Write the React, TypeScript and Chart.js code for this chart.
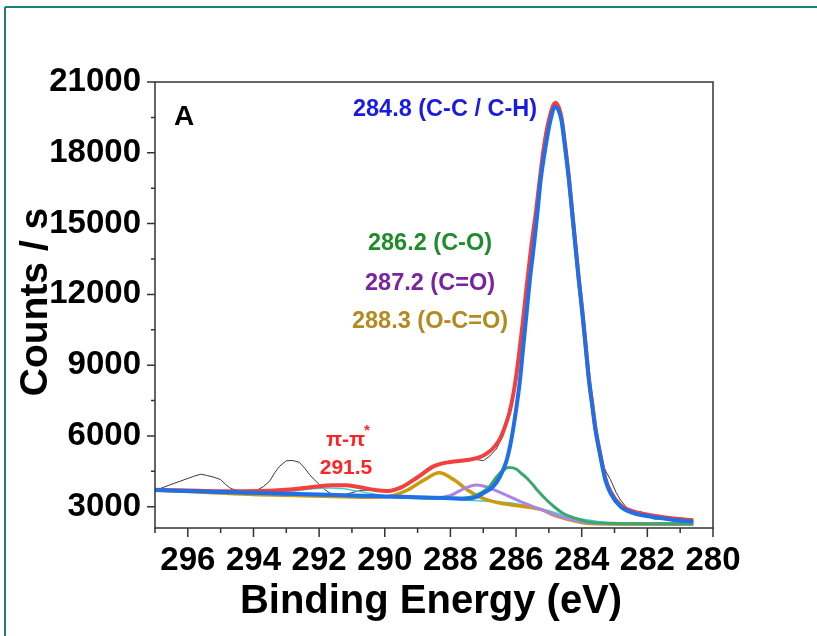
import React, { useEffect, useRef } from 'react';
import { Chart, registerables } from 'chart.js';
Chart.register(...registerables);

// ---- axes ----
const xTicks = [296, 294, 292, 290, 288, 286, 284, 282, 280];
const xMinorTicks = [297, 295, 293, 291, 289, 287, 285, 283, 281];
const yTicks = [3000, 6000, 9000, 12000, 15000, 18000, 21000];
const yMinorTicks = [4500, 7500, 10500, 13500, 16500, 19500];

// ---- raw spectrum (black) ----
const rawE = [296.9, 296.6, 296.3, 296.0, 295.8, 295.6, 295.4, 295.2, 295.0, 294.85, 294.7, 294.5, 294.2, 293.9, 293.7, 293.5, 293.35, 293.2, 293.0, 292.8, 292.6, 292.45, 292.3, 292.15, 292.0, 291.8, 291.6, 291.4, 291.2, 291.0, 290.7, 290.4, 290.1, 289.8, 289.5, 289.2, 289.0, 288.7, 288.4, 288.1, 287.8, 287.5, 287.2, 287.0, 286.8, 286.6, 286.4, 286.2, 286.06, 285.94, 285.81, 285.68, 285.54, 285.4, 285.28, 285.15, 285.0, 284.85, 284.75, 284.62, 284.51, 284.39, 284.29, 284.19, 284.09, 283.98, 283.88, 283.78, 283.68, 283.58, 283.45, 283.3, 283.12, 282.95, 282.82, 282.62, 282.45, 282.31, 282.2, 282.1, 281.81, 281.5, 281.2, 281.0, 280.8, 280.6];
const rawV = [3740, 3900, 4050, 4200, 4300, 4380, 4320, 4250, 4150, 3950, 3780, 3690, 3680, 3700, 3850, 4100, 4450, 4720, 4950, 4960, 4880, 4650, 4380, 4150, 3950, 3700, 3520, 3500, 3520, 3600, 3700, 3700, 3680, 3700, 3850, 4080, 4260, 4550, 4790, 4880, 4920, 4960, 5000, 4950, 5150, 5450, 6000, 6900, 7750, 9200, 10800, 12250, 14000, 15400, 16850, 18250, 19350, 19950, 20000, 19450, 18300, 16900, 15480, 14100, 12700, 11300, 9900, 8500, 7500, 6500, 5500, 4600, 4140, 3600, 3290, 2940, 2800, 2730, 2800, 2700, 2480, 2470, 2480, 2470, 2400, 2380];

// ---- fitted envelope (red) ----
const envE = [297, 296, 295, 294.3, 293.5, 292.8, 292.2, 291.6, 291.2, 290.8, 290.3, 289.9, 289.5, 289.0, 288.5, 288.0, 287.5, 287.1, 286.9, 286.7, 286.5, 286.35, 286.2, 286.08, 285.98, 285.88, 285.78, 285.68, 285.54, 285.4, 285.28, 285.15, 285.0, 284.8, 284.62, 284.51, 284.39, 284.29, 284.19, 284.09, 283.98, 283.88, 283.78, 283.68, 283.58, 283.45, 283.28, 283.12, 282.82, 282.42, 281.8, 281.2, 280.6];
const envV = [3720, 3690, 3660, 3660, 3680, 3740, 3840, 3910, 3910, 3840, 3710, 3670, 3820, 4250, 4720, 4900, 4980, 5100, 5250, 5480, 5850, 6350, 7000, 7800, 8700, 9800, 11000, 12300, 14000, 15440, 16850, 18260, 19390, 20120, 19520, 18380, 16950, 15520, 14100, 12690, 11280, 9860, 8440, 7370, 6320, 5340, 4210, 3640, 3080, 2800, 2620, 2500, 2430];

// ---- 284.8 C-C / C-H (blue) ----
const ccE = [297, 295, 293, 291, 290, 289, 288, 287.5, 287.2, 287.0, 286.7, 286.5, 286.3, 286.15, 286.0, 285.88, 285.78, 285.68, 285.58, 285.46, 285.35, 285.25, 285.1, 284.95, 284.8, 284.62, 284.51, 284.39, 284.29, 284.19, 284.09, 283.98, 283.88, 283.78, 283.68, 283.58, 283.45, 283.28, 283.12, 282.82, 282.42, 281.8, 281.2, 280.6];
const ccV = [3710, 3630, 3550, 3480, 3440, 3400, 3360, 3340, 3420, 3570, 3850, 4250, 4900, 5800, 7100, 8370, 9790, 11200, 12610, 14020, 15440, 16850, 18260, 19390, 19950, 19390, 18260, 16850, 15440, 14020, 12610, 11200, 9790, 8370, 7300, 6250, 5270, 4140, 3570, 3010, 2730, 2560, 2440, 2370];

// ---- 286.2 C-O (green) ----
const coE = [297, 293, 290, 288.5, 287.8, 287.3, 287.0, 286.85, 286.57, 286.4, 286.22, 286.0, 285.86, 285.66, 285.5, 285.35, 285.1, 284.85, 284.6, 284.34, 283.83, 283.0, 282.0, 280.6];
const coV = [3700, 3540, 3430, 3360, 3360, 3440, 3650, 3800, 4300, 4550, 4660, 4600, 4440, 4200, 3950, 3700, 3330, 3010, 2750, 2580, 2370, 2290, 2280, 2280];

// ---- 287.2 C=O (purple) ----
const cdoE = [297, 293, 290, 289, 288.5, 288.0, 287.75, 287.5, 287.23, 287.0, 286.75, 286.47, 286.15, 285.86, 285.5, 285.25, 284.8, 284.3, 283.8, 283.0, 280.6];
const cdoV = [3700, 3540, 3430, 3390, 3380, 3480, 3650, 3820, 3920, 3880, 3760, 3600, 3400, 3220, 3020, 2890, 2650, 2450, 2330, 2280, 2270];

// ---- 288.3 O-C=O (gold) ----
const ocoE = [297, 295.5, 294, 292.5, 291, 290.3, 289.8, 289.3, 288.8, 288.34, 287.89, 287.48, 287.08, 286.57, 285.86, 285.25, 284.85, 284.3, 283.83, 283.0, 280.6];
const ocoV = [3700, 3620, 3520, 3470, 3410, 3400, 3460, 3710, 4140, 4440, 4140, 3710, 3400, 3180, 3030, 2890, 2650, 2430, 2300, 2270, 2260];

// ---- 291.5 pi-pi* (cyan) ----
const piE = [297, 295, 294, 293.3, 292.7, 292.2, 291.7, 291.3, 290.9, 290.4, 290.0, 289.5, 289.0, 288.0, 287.0, 286.0, 285.5, 285.0, 284.5, 284.0, 283.5, 283.0, 282.0, 280.6];
const piV = [3710, 3630, 3600, 3620, 3680, 3760, 3800, 3770, 3680, 3560, 3470, 3420, 3390, 3320, 3240, 3130, 3000, 2830, 2630, 2480, 2380, 2330, 2300, 2290];

const FONT = '"Liberation Sans", Arial, sans-serif';

const toPts = (xs: number[], ys: number[]) => xs.map((x, i) => ({ x, y: ys[i] }));

const decorPlugin = {
  id: 'decor',
  beforeDraw(chart: any) {
    const ctx = chart.ctx;
    ctx.save();
    ctx.fillStyle = '#ffffff';
    ctx.fillRect(0, 0, chart.width, chart.height);
    ctx.strokeStyle = '#1d7f7d';
    ctx.lineWidth = 2;
    ctx.beginPath();
    ctx.moveTo(5, 7);
    ctx.lineTo(chart.width, 7);
    ctx.moveTo(5, 7);
    ctx.lineTo(5, chart.height);
    ctx.stroke();
    ctx.restore();
  },
  afterDraw(chart: any) {
    const ctx = chart.ctx;
    const { left, right, top, bottom } = chart.chartArea;
    const xs = chart.scales.x;
    const ys = chart.scales.y;
    ctx.save();
    // frame box
    ctx.strokeStyle = '#333333';
    ctx.lineWidth = 1.5;
    ctx.strokeRect(left, top, right - left, bottom - top);
    // ticks
    ctx.beginPath();
    xTicks.forEach((v) => {
      const p = xs.getPixelForValue(v);
      ctx.moveTo(p, bottom);
      ctx.lineTo(p, bottom + 9);
    });
    xMinorTicks.forEach((v) => {
      const p = xs.getPixelForValue(v);
      ctx.moveTo(p, bottom);
      ctx.lineTo(p, bottom + 5);
    });
    yTicks.forEach((v) => {
      const p = ys.getPixelForValue(v);
      ctx.moveTo(left, p);
      ctx.lineTo(left - 8, p);
    });
    yMinorTicks.forEach((v) => {
      const p = ys.getPixelForValue(v);
      ctx.moveTo(left, p);
      ctx.lineTo(left - 4, p);
    });
    ctx.stroke();

    // axis titles
    ctx.fillStyle = '#000';
    ctx.font = `bold 40px ${FONT}`;
    ctx.textAlign = 'center';
    ctx.textBaseline = 'alphabetic';
    ctx.fillText('Binding Energy (eV)', 431, 613);
    ctx.save();
    ctx.translate(47, 302);
    ctx.rotate(-Math.PI / 2);
    ctx.font = `bold 39px ${FONT}`;
    ctx.fillText('Counts / s', 0, 0);
    ctx.restore();

    // panel letter
    ctx.font = `bold 28px ${FONT}`;
    ctx.fillText('A', 184, 125);

    // peak labels
    ctx.font = `bold 23.5px ${FONT}`;
    ctx.fillStyle = '#1a1ae6';
    ctx.fillText('284.8 (C-C / C-H)', 445, 116);
    ctx.fillStyle = '#1e8c2a';
    ctx.fillText('286.2 (C-O)', 430, 250);
    ctx.fillStyle = '#7a22a2';
    ctx.fillText('287.2 (C=O)', 430, 290);
    ctx.fillStyle = '#b38a1e';
    ctx.fillText('288.3 (O-C=O)', 430, 328);

    ctx.fillStyle = '#ff2424';
    ctx.textAlign = 'left';
    ctx.font = `bold 21px ${FONT}`;
    ctx.fillText('\u03c0-\u03c0', 326, 446);
    ctx.font = `bold 15px ${FONT}`;
    ctx.fillText('*', 364, 435);
    ctx.textAlign = 'center';
    ctx.font = `bold 21px ${FONT}`;
    ctx.fillText('291.5', 346, 474);
    ctx.restore();
  },
};

export default function App() {
  const ref = useRef<HTMLCanvasElement | null>(null);
  useEffect(() => {
    document.body.style.margin = '0';
    const canvas = ref.current;
    if (!canvas) return;
    const base = { pointRadius: 0, fill: false, cubicInterpolationMode: 'monotone' as const };
    const chart = new Chart(canvas, {
      type: 'line',
      data: {
        datasets: [
          { ...base, label: 'C-C / C-H', data: toPts(ccE, ccV), borderColor: '#1f6fe6', borderWidth: 4, order: 0 },
          { ...base, label: 'Envelope', data: toPts(envE, envV), borderColor: '#f04040', borderWidth: 4, order: 1 },
          { ...base, label: 'C-O', data: toPts(coE, coV), borderColor: '#3aa76d', borderWidth: 3, order: 2 },
          { ...base, label: 'C=O', data: toPts(cdoE, cdoV), borderColor: '#ad84e6', borderWidth: 3, order: 3 },
          { ...base, label: 'O-C=O', data: toPts(ocoE, ocoV), borderColor: '#cc9a0e', borderWidth: 3.5, order: 4 },
          { ...base, label: 'pi-pi*', data: toPts(piE, piV), borderColor: '#40d0d0', borderWidth: 1.5, order: 5 },
          { pointRadius: 0, fill: false, tension: 0, label: 'Raw', data: toPts(rawE, rawV), borderColor: '#3a3a3a', borderWidth: 1, order: 6 },
        ],
      },
      options: {
        animation: false,
        responsive: false,
        devicePixelRatio: 1,
        layout: { padding: { left: 0, right: 104, top: 82, bottom: 0 } },
        plugins: { legend: { display: false }, tooltip: { enabled: false } },
        scales: {
          x: {
            type: 'linear',
            min: 280,
            max: 297,
            reverse: true,
            afterBuildTicks: (s: any) => {
              s.ticks = xTicks.map((v) => ({ value: v }));
            },
            afterFit: (s: any) => {
              s.height = 108;
            },
            grid: { display: false, drawTicks: false },
            border: { display: false },
            ticks: {
              autoSkip: false,
              maxRotation: 0,
              padding: 13,
              color: '#000',
              font: { family: FONT, size: 33, weight: 'bold' },
              callback: (v: any) => String(v),
            },
          },
          y: {
            type: 'linear',
            min: 2100,
            max: 21000,
            afterBuildTicks: (s: any) => {
              s.ticks = yTicks.map((v) => ({ value: v }));
            },
            afterFit: (s: any) => {
              s.width = 155;
            },
            grid: { display: false, drawTicks: false },
            border: { display: false },
            ticks: {
              padding: 14,
              color: '#000',
              font: { family: FONT, size: 33, weight: 'bold' },
              callback: (v: any) => String(v),
            },
          },
        },
      },
      plugins: [decorPlugin],
    });
    return () => chart.destroy();
  }, []);
  return (
    <div style={{ width: 817, height: 636, position: 'relative' }}>
      <canvas ref={ref} width={817} height={636} style={{ display: 'block', width: 817, height: 636 }} />
    </div>
  );
}
